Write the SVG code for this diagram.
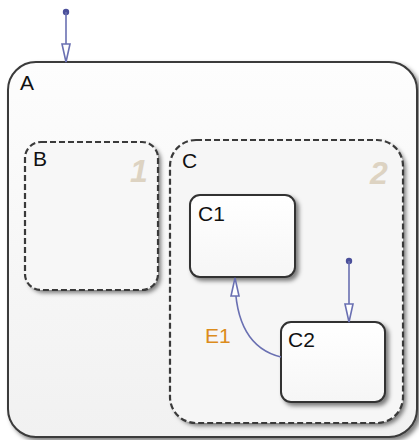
<svg xmlns="http://www.w3.org/2000/svg" width="419" height="440" viewBox="0 0 419 440">
<defs>
<linearGradient id="gA" x1="0" y1="0" x2="0" y2="1"><stop offset="0" stop-color="#fdfdfd"/><stop offset="1" stop-color="#f1f1f1"/></linearGradient>
<linearGradient id="gS" x1="0" y1="0" x2="0" y2="1"><stop offset="0" stop-color="#ffffff"/><stop offset="1" stop-color="#f6f6f6"/></linearGradient>
<filter id="sh" x="-10%" y="-10%" width="125%" height="125%"><feDropShadow dx="3" dy="3" stdDeviation="2" flood-color="#000" flood-opacity="0.5"/></filter>
<marker id="ah" viewBox="0 0 20 10" refX="19" refY="5" markerWidth="20" markerHeight="10" markerUnits="userSpaceOnUse" orient="auto">
<path d="M1,1 L1,9 L19,5 Z" fill="#ffffff" stroke="#6a70b2" stroke-width="1.6"/>
</marker>
</defs>
<style>
.st{fill:url(#gA);stroke:#3a3a3a;stroke-width:2}
.sub{fill:none;stroke:#3a3a3a;stroke-width:2.2;stroke-dasharray:6,3}
.leaf{fill:url(#gS);stroke:#333;stroke-width:2}
.lbl{font-family:"Liberation Sans",Arial,sans-serif;font-size:21px;fill:#111}
.ord{font-family:"Liberation Sans",Arial,sans-serif;font-size:32px;font-weight:bold;font-style:italic;fill:#ddd3c2}
.tr{fill:none;stroke:#6a70b2;stroke-width:1.6}
.dot{fill:#4a4f9a}
.tl{font-family:"Liberation Sans",Arial,sans-serif;font-size:21px;fill:#dc8c1c}
</style>
<g id="A">
<rect x="8" y="62" width="409" height="375" rx="28" ry="28" class="st" filter="url(#sh)"/>
<text x="20" y="90" class="lbl">A</text>
</g>
<g id="B">
<rect x="25" y="142" width="133" height="148" rx="16" ry="16" fill="#f7f7f7" filter="url(#sh)" stroke="none"/>
<rect x="25" y="142" width="133" height="148" rx="16" ry="16" class="sub"/>
<text x="33" y="166" class="lbl">B</text>
<text x="130" y="182" class="ord">1</text>
</g>
<g id="C">
<rect x="170" y="140" width="233" height="283" rx="26" ry="26" fill="#f6f6f6" filter="url(#sh)" stroke="none"/>
<rect x="170" y="140" width="233" height="283" rx="26" ry="26" class="sub"/>
<text x="182" y="168" class="lbl">C</text>
<text x="370" y="184" class="ord">2</text>
</g>
<g id="C1">
<rect x="190" y="195" width="105" height="82" rx="10" ry="10" class="leaf" filter="url(#sh)"/>
<text x="198" y="221" class="lbl">C1</text>
</g>
<g id="C2">
<rect x="281" y="322" width="104" height="80" rx="10" ry="10" class="leaf" filter="url(#sh)"/>
<text x="288" y="347" class="lbl">C2</text>
</g>
<g id="connectors">
<circle cx="66" cy="12" r="3.2" class="dot"/>
<path d="M66,12 L66,62" class="tr" marker-end="url(#ah)"/>
<circle cx="349" cy="261" r="3.2" class="dot"/>
<path d="M349,261 L349,322" class="tr" marker-end="url(#ah)"/>
<path d="M281,357 C252,350 235,325 235,278" class="tr" marker-end="url(#ah)"/>
<text x="205" y="343" class="tl">E1</text>
</g>
</svg>
